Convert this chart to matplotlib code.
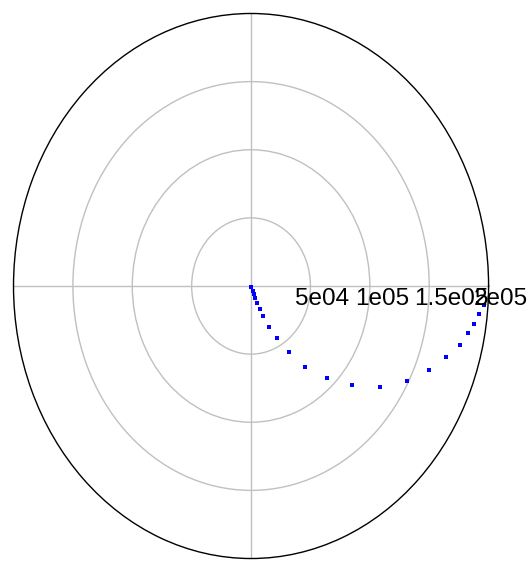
import matplotlib.pyplot as plt
import matplotlib.transforms as mtransforms
import numpy as np

# Spiral points (radius, angle in degrees)
radius = [611, 3940, 6596, 9253, 13774, 18575, 24470, 33974, 43886, 58397,
          74873, 92862, 111920, 131428, 148705, 161733, 172544, 181443,
          185810, 189960, 193050, 196500]
angle_deg = [-74, -68.7, -67.5, -66.9, -68.8, -67, -65.8, -63.2, -60.4, -56.4,
             -52.6, -46.4, -40.5, -34.2, -28.1, -22.5, -17.7, -13.9,
             -10.6, -8.4, -6.2, -4.0]

ring_values = [5e4, 1e5, 1.5e5, 2e5]
ring_labels = ['5e04', '1e05', '1.5e05', '2e05']

fig = plt.figure(figsize=(5.32, 5.62), dpi=100)
ax = fig.add_axes([0.0254, 0.0062, 0.893, 0.9698], projection='polar')
ax.set_aspect('auto')

ax.plot(np.radians(angle_deg), radius, linestyle='none', marker='s',
        markersize=2.9, color='#0000FF', markeredgewidth=0, zorder=3)

ax.set_rlim(0, 2e5)
ax.set_rgrids(ring_values[:-1], labels=[''] * 3)
ax.set_thetagrids([0, 90, 180, 270], labels=[''] * 4)
ax.grid(True, color='#C0C0C0', linewidth=1)
ax.spines['polar'].set_color('black')
ax.spines['polar'].set_linewidth(1)

# radial labels sit just under the horizontal axis, slightly left of each ring
label_tr = mtransforms.offset_copy(ax.transData, fig=fig, x=-15, y=-2, units='dots')
for r, lab in zip(ring_values, ring_labels):
    ax.text(0, r, lab, ha='left', va='top', fontsize=17.5,
            family='Liberation Sans', color='black', zorder=4,
            transform=label_tr)

fig.savefig('out.png', dpi=100)
